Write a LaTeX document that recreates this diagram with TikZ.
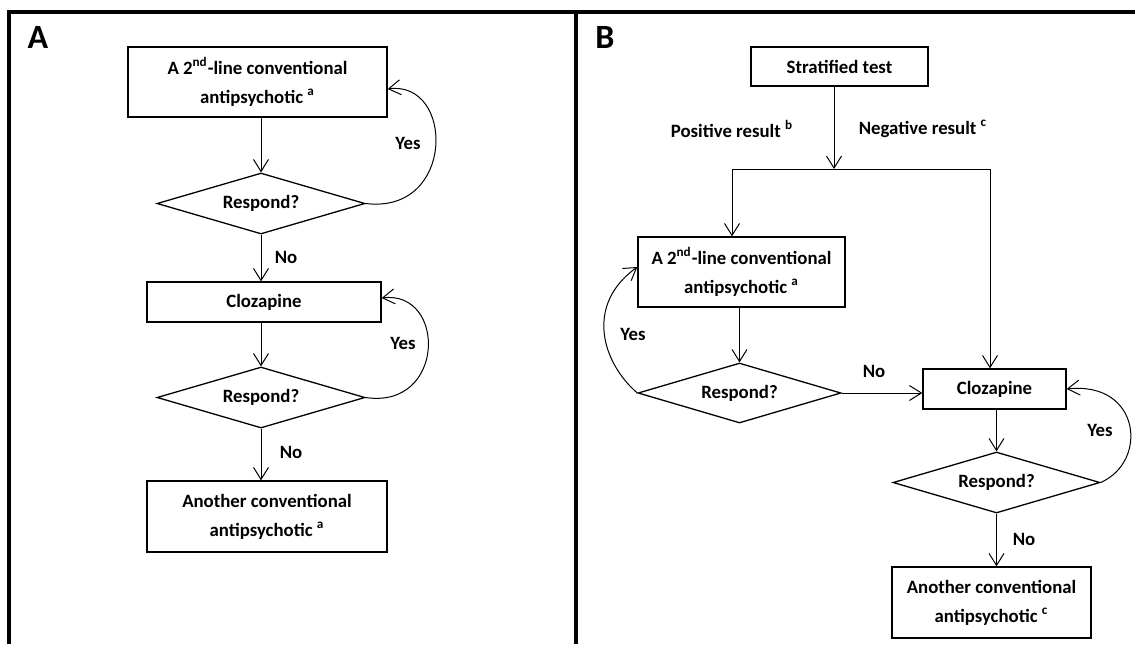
\documentclass[tikz,border=0pt]{standalone}
\usepackage{fontspec}
\setmainfont{Carlito}
\usetikzlibrary{arrows.meta,shapes.geometric}

\begin{document}
\begin{tikzpicture}[x=0.5pt,y=-0.5pt,
    font=\fontsize{9.4}{14.5}\selectfont\bfseries,
    stepbox/.style={draw,line width=0.65pt,inner sep=0pt,align=center},
    askbox/.style={draw,diamond,aspect=3.4,line width=0.65pt,inner sep=0pt},
    arr/.style={-{Straight Barb[length=6pt,width=7.5pt]},line width=0.5pt},
    panel/.style={font=\fontsize{17}{19}\selectfont\bfseries}]
  \useasboundingbox (0,0) rectangle (1135,644);
  % frame
  \draw[line width=1.6pt] (9,644) -- (9,12) -- (1135,12);
  \draw[line width=2pt] (576,12) -- (576,644);
  \node[panel] (labA) at (38,37) {A};
  \node[panel] (labB) at (605,37) {B};
  % panel A
  \node[stepbox,minimum width=129.5pt,minimum height=35pt] (a2nd) at (257.5,82)
    {A 2\textsuperscript{nd}-line conventional\\antipsychotic \textsuperscript{a}};
  \node[askbox,minimum width=104pt,minimum height=30.5pt] (aResp1) at (261,203.5) {Respond?};
  \node[stepbox,minimum width=117pt,minimum height=20pt] (aCloz) at (264,302) {Clozapine};
  \node[askbox,minimum width=104pt,minimum height=30.5pt] (aResp2) at (261,397.5) {Respond?};
  \node[stepbox,minimum width=120pt,minimum height=35.5pt] (aOther) at (267,516.5)
    {Another conventional\\antipsychotic \textsuperscript{a}};
  \draw[arr] (a2nd.south -| aResp1.north) -- (aResp1.north);
  \draw[arr] (aResp1.south) -- (aResp1.south |- aCloz.north);
  \draw[arr] (aCloz.south -| aResp2.north) -- (aResp2.north);
  \draw[arr] (aResp2.south) -- (aResp2.south |- aOther.north);
  \draw[arr] (aResp1.east) .. controls +(90,11) and +(67,-9) .. ([yshift=-3.5pt]a2nd.east);
  \draw[arr] (aResp2.east) .. controls +(80,12) and +(65,-8) .. ([yshift=2pt]aCloz.east);
  \node (aYes1) at (408,143) {Yes};
  \node (aNo1) at (286,257) {No};
  \node (aYes2) at (403,343) {Yes};
  \node (aNo2) at (291,452) {No};
  % panel B
  \node[stepbox,minimum width=88.5pt,minimum height=19.5pt] (bTest) at (839.5,66.5) {Stratified test};
  \coordinate (bSplit) at (834,169);
  \coordinate (bLeft) at (732,169);
  \coordinate (bRight) at (990,169);
  \node[stepbox,minimum width=103.5pt,minimum height=35pt] (b2nd) at (741.5,272)
    {A 2\textsuperscript{nd}-line conventional\\antipsychotic \textsuperscript{a}};
  \node[askbox,minimum width=101.5pt,minimum height=30pt] (bResp1) at (739.5,393) {Respond?};
  \node[stepbox,minimum width=71.5pt,minimum height=20pt] (bCloz) at (994.5,389) {Clozapine};
  \node[askbox,minimum width=103.5pt,minimum height=30.5pt] (bResp2) at (996.5,482.5) {Respond?};
  \node[stepbox,minimum width=99.5pt,minimum height=35.5pt] (bOther) at (991.5,602.5)
    {Another conventional\\antipsychotic \textsuperscript{c}};
  \draw[arr] (bTest.south -| bSplit) -- (bSplit);
  \draw[line width=0.5pt] (bLeft) -- (bRight);
  \draw[arr] (bLeft) -- (bLeft |- b2nd.north);
  \draw[arr] (bRight) -- (bRight |- bCloz.north);
  \draw[arr] (b2nd.south -| bResp1.north) -- (bResp1.north);
  \draw[arr] (bResp1.east) -- (bResp1.east -| bCloz.west);
  \draw[arr] (bCloz.south -| bResp2.north) -- (bResp2.north);
  \draw[arr] (bResp2.south) -- (bResp2.south |- bOther.north);
  \draw[arr] (bResp1.west) .. controls +(-35,-30) and +(-53,38) .. ([yshift=2.5pt]b2nd.west);
  \draw[arr] (bResp2.east) .. controls +(48,-21) and +(74,-8) .. (bCloz.east);
  \node (bPos) at (732,129) {Positive result \textsuperscript{b}};
  \node (bNeg) at (923,129) {Negative result \textsuperscript{c}};
  \node (bYes1) at (633,334) {Yes};
  \node (bNo1) at (874,371) {No};
  \node (bYes2) at (1100,430) {Yes};
  \node (bNo2) at (1024,539) {No};
\end{tikzpicture}
\end{document}
